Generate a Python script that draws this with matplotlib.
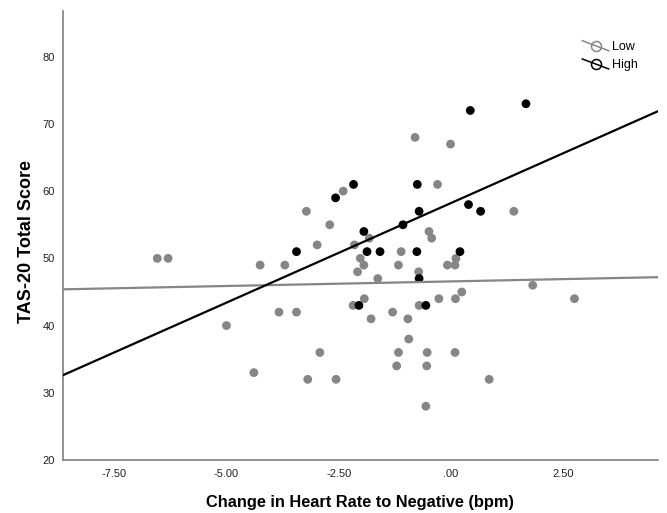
import matplotlib
matplotlib.use('Agg')
import numpy as np
import matplotlib.pyplot as plt
from matplotlib.legend_handler import HandlerBase
from matplotlib.lines import Line2D

# Low group (grey)
low_hr = [-6.54, -6.30, -4.25, -3.70, -2.98, -3.83, -3.44, -5.00, -2.92, -4.39,
          -3.19, -0.80, -0.01, -2.40, -0.30, -3.22, -2.70, -1.82, -0.49, -0.43,
          -2.15, -1.11, -2.02, 0.11, -1.94, -2.08, -1.17, -0.72, -1.63, -0.08,
          0.09, -2.18, -1.93, -0.71, -0.27, 0.10, 0.24, -1.30, -1.78, -0.96,
          -0.94, -1.17, -0.53, 0.09, -1.21, -0.54, -2.56, 0.85, -0.56, 1.82,
          2.75, 1.40]
low_tas = [50, 50, 49, 49, 52, 42, 42, 40, 36, 33,
           32, 68, 67, 60, 61, 57, 55, 53, 54, 53,
           52, 51, 50, 50, 49, 48, 49, 48, 47, 49,
           49, 43, 44, 43, 44, 44, 45, 42, 41, 41,
           38, 36, 36, 36, 34, 34, 32, 32, 28, 46,
           44, 57]

# High group (black)
high_hr = [0.43, 1.67, -2.17, -2.57, -0.75, -0.71, 0.39, 0.66, -1.07, -1.94,
           -3.44, -1.87, -1.58, -0.76, 0.20, -0.71, -2.05, -0.56]
high_tas = [72, 73, 61, 59, 61, 57, 58, 57, 55, 54,
            51, 51, 51, 51, 51, 47, 43, 43]

# fit lines: (intercept, slope)
low_fit = (46.57, 0.1365)
high_fit = (58.23, 2.964)

x_range = (-8.64, 4.61)
y_range = (20, 86.8)
x_ticks = [-7.5, -5.0, -2.5, 0.0, 2.5]
x_tick_labels = ['-7.50', '-5.00', '-2.50', '.00', '2.50']
y_ticks = [20, 30, 40, 50, 60, 70, 80]

GREY = '#868686'
BLACK = '#000000'


class FitHandler(HandlerBase):
    # hollow circle with the fit line drawn through it, SPSS style
    def create_artists(self, legend, orig_handle, xdescent, ydescent,
                       width, height, fontsize, trans):
        c = orig_handle.get_color()
        cx = width / 2 - xdescent
        cy = height / 2 - ydescent
        ln = Line2D([cx - 9.5, cx + 9.5], [cy + 3.6, cy - 3.6], color=c, lw=1.1,
                    transform=trans)
        mk = Line2D([cx], [cy], marker='o', markersize=7.2, mfc='none', mec=c,
                    mew=1.1, ls='none', transform=trans)
        return [ln, mk]


plt.rcParams['font.family'] = ['Liberation Sans', 'DejaVu Sans']

fig = plt.figure(figsize=(6.67, 5.13), dpi=100)
ax = fig.add_axes([63 / 667, 1 - 460 / 513, 595 / 667, 449 / 513])

ax.scatter(low_hr, low_tas, s=40, color=GREY, edgecolors='none', zorder=2)
ax.scatter(high_hr, high_tas, s=40, color=BLACK, edgecolors='none', zorder=3)

xs = np.array(x_range)
ax.plot(xs, low_fit[0] + low_fit[1] * xs, color=GREY, lw=1.6, zorder=4)
ax.plot(xs, high_fit[0] + high_fit[1] * xs, color=BLACK, lw=1.6, zorder=4)

ax.set_xlim(*x_range)
ax.set_ylim(*y_range)
ax.set_xticks(x_ticks)
ax.set_xticklabels(x_tick_labels)
ax.set_yticks(y_ticks)
ax.tick_params(length=0, labelsize=8, colors='#222222')
ax.tick_params(axis='x', pad=6.5)
ax.tick_params(axis='y', pad=6)

for side in ['top', 'right']:
    ax.spines[side].set_visible(False)
for side in ['left', 'bottom']:
    ax.spines[side].set_color('#808080')
    ax.spines[side].set_linewidth(1.2)

ax.set_xlabel('Change in Heart Rate to Negative (bpm)', fontsize=11.8,
              fontweight='bold', labelpad=11.5)
ax.set_ylabel('TAS-20 Total Score', fontsize=13, fontweight='bold')
ax.yaxis.set_label_coords(-0.047, 0.486)

h_low = Line2D([], [], color=GREY)
h_high = Line2D([], [], color=BLACK)
ax.legend([h_low, h_high], ['Low', 'High'], handler_map={Line2D: FitHandler()},
          loc='upper left', bbox_to_anchor=(0.874, 0.933), frameon=False,
          fontsize=9, handlelength=2.0, handletextpad=0.3, labelspacing=0.5,
          borderpad=0, borderaxespad=0)

fig.savefig('out.png', dpi=100)
